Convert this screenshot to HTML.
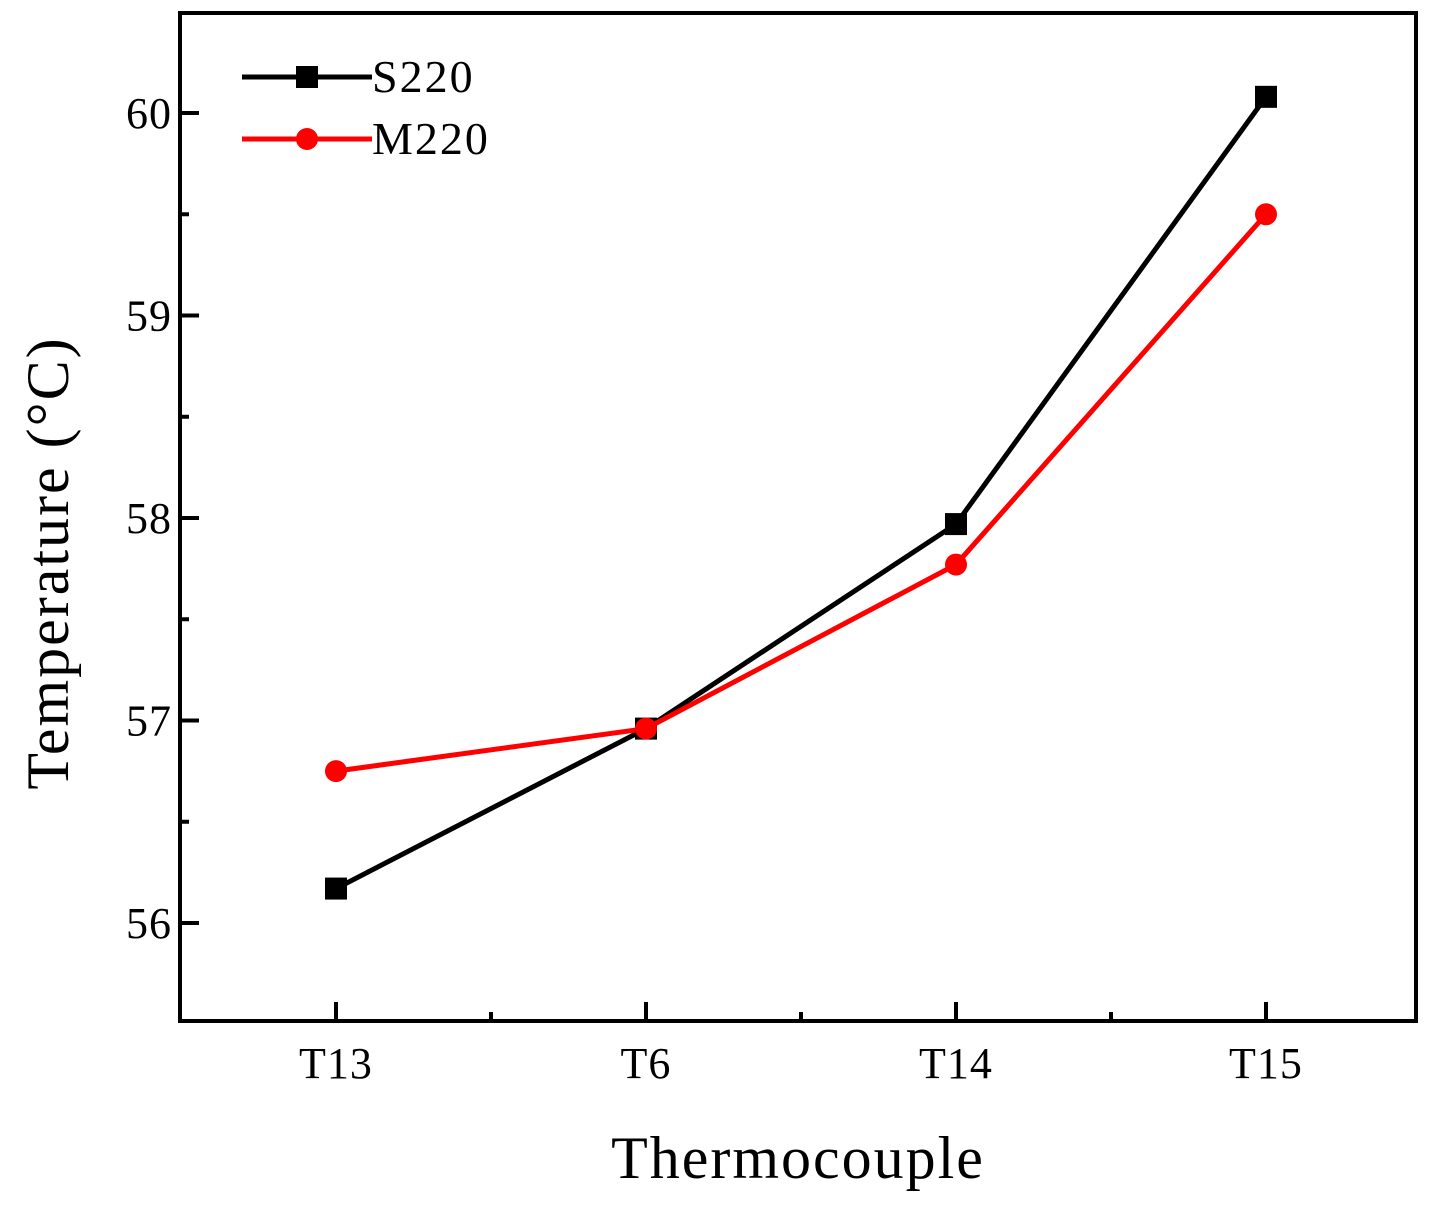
<!DOCTYPE html>
<html><head><meta charset="utf-8"><style>
body{margin:0;background:#fff}
svg text{font-family:"Liberation Serif",serif;fill:#000}
</style></head><body>
<svg width="1440" height="1209" xmlns="http://www.w3.org/2000/svg">
<g id="axes"></g><g id="marks"></g>
</svg>
<script>
const categories=["T13","T6","T14","T15"];
const s220=[56.17,56.96,57.97,60.08];
const m220=[56.75,56.96,57.77,59.50];
const yTicks=[56,57,58,59,60];
const yMinorTicks=[55.5,56.5,57.5,58.5,59.5,60.5];
const L=180,R=1416,T=13,B=1021;
const yMin=55.516,yMax=60.494;
const xs=i=>336+i*310;
const ys=v=>B-(v-yMin)/(yMax-yMin)*(B-T);
const NS="http://www.w3.org/2000/svg";
function mk(p,tag,a){const e=document.createElementNS(NS,tag);for(const k in a)e.setAttribute(k,a[k]);p.appendChild(e);return e;}
const ax=document.getElementById('axes'),mg=document.getElementById('marks');
const frame=mk(ax,'rect',{x:L,y:T,width:R-L,height:B-T,fill:'none',stroke:'#000','stroke-width':4});


yTicks.forEach(v=>{const y=ys(v);
 const t=mk(ax,'line',{x1:L,x2:L+19,y1:y,y2:y,stroke:'#000','stroke-width':4});
 
 
 const l=mk(ax,'text',{x:L-8,y:y+15,'text-anchor':'end','font-size':44,'letter-spacing':1});l.textContent=v;
 
 });
yMinorTicks.forEach(v=>{const y=ys(v);if(y<T||y>B)return;
 const t=mk(ax,'line',{x1:L,x2:L+9,y1:y,y2:y,stroke:'#000','stroke-width':4});
 
 });
categories.forEach((c,i)=>{const x=xs(i);
 const t=mk(ax,'line',{x1:x,x2:x,y1:B,y2:B-19,stroke:'#000','stroke-width':4});
 
 
 const l=mk(ax,'text',{x:x,y:1078,'text-anchor':'middle','font-size':44,'letter-spacing':1});l.textContent=c;
 
 
 if(i<categories.length-1){const m=mk(ax,'line',{x1:x+155,x2:x+155,y1:B,y2:B-9,stroke:'#000','stroke-width':4});
 
 }});
const xt=mk(ax,'text',{x:798,y:1178,'text-anchor':'middle','font-size':60,'letter-spacing':2});xt.textContent='Thermocouple';


const yt=mk(ax,'text',{x:0,y:0,'text-anchor':'middle','font-size':60,'letter-spacing':2,transform:'translate(68,563) rotate(-90)'});yt.textContent='Temperature (°C)';


function series(vals,color,shape,name){
 const pl=mk(mg,'polyline',{points:vals.map((v,i)=>xs(i)+','+ys(v)).join(' '),fill:'none',stroke:color,'stroke-width':5});
 
 
 vals.forEach((v,i)=>{let e;
  if(shape==='sq')e=mk(mg,'rect',{x:xs(i)-11,y:ys(v)-11,width:22,height:22,fill:color});
  else e=mk(mg,'circle',{cx:xs(i),cy:ys(v),r:11,fill:color});
  
  });
}
series(s220,'#000','sq','s220');
series(m220,'#f00','ci','m220');
const l1=mk(mg,'line',{x1:242,x2:372,y1:77,y2:77,stroke:'#000','stroke-width':5});


const r1=mk(mg,'rect',{x:296,y:66,width:22,height:22,fill:'#000'});


const t1=mk(mg,'text',{x:372,y:92,'font-size':46,'letter-spacing':2});t1.textContent='S220';


const l2=mk(mg,'line',{x1:242,x2:372,y1:139,y2:139,stroke:'#f00','stroke-width':5});


const c2=mk(mg,'circle',{cx:307,cy:139,r:11,fill:'#f00'});


const t2=mk(mg,'text',{x:372,y:154,'font-size':46,'letter-spacing':2});t2.textContent='M220';


</script>
</body></html>
